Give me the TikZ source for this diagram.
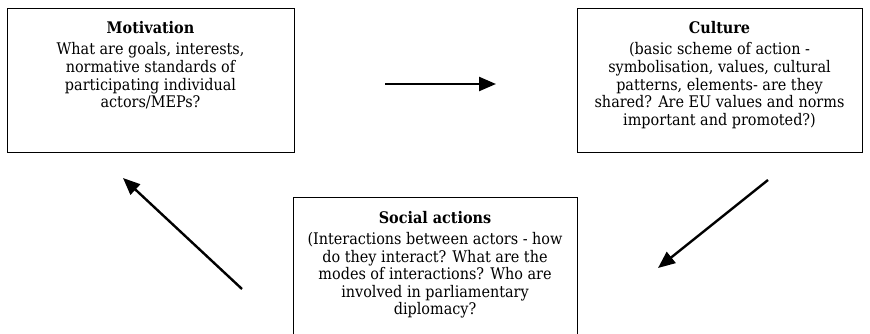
\documentclass[tikz,border=0pt]{standalone}
\usepackage{fontspec}
\setmainfont{DejaVu Serif Condensed}
\usetikzlibrary{arrows.meta}
\begin{document}
\begin{tikzpicture}[x=1pt,y=-1pt,
  box/.style={draw=black,line width=1pt,anchor=north west,inner sep=0pt},
  txt/.style={align=center,anchor=north,inner sep=0pt,font=\fontsize{16}{17.6}\selectfont},
  arr/.style={line width=2.4pt,-{Triangle[length=17pt,width=14pt]}}]
\useasboundingbox (0,0) rectangle (870,334);
\fill[white] (0,0) rectangle (870,334);
% boxes
\node[box,minimum width=287pt,minimum height=144pt] (mot) at (7,8) {};
\node[box,minimum width=285pt,minimum height=144pt] (cul) at (577,8) {};
\node[box,minimum width=284pt,minimum height=150pt] (soc) at (293,197) {};
% texts
\node[txt] (motT) at (150.5,21.5) {\textbf{Motivation}\\[3.5pt]
  What are goals, interests,\\ normative standards of\\ participating individual\\ actors/MEPs?};
\node[txt] (culT) at (719.5,21.5) {\textbf{Culture}\\[3.5pt]
  (basic scheme of action -\\ symbolisation, values, cultural\\ patterns, elements- are they\\ shared? Are EU values and norms\\ important and promoted?)};
\node[txt] (socT) at (435,211) {\textbf{Social actions}\\[3.5pt]
  (Interactions between actors - how\\ do they interact? What are the\\ modes of interactions? Who are\\ involved in parliamentary\\ diplomacy?};
% arrow end points
\coordinate (a1s) at (385,84);
\coordinate (a1e) at (496,84);
\coordinate (a2s) at (768,180);
\coordinate (a2e) at (658,268);
\coordinate (a3s) at (242,289);
\coordinate (a3e) at (123,178);
\draw[arr] (a1s) -- (a1e);
\draw[arr] (a2s) -- (a2e);
\draw[arr] (a3s) -- (a3e);
\end{tikzpicture}
\end{document}
